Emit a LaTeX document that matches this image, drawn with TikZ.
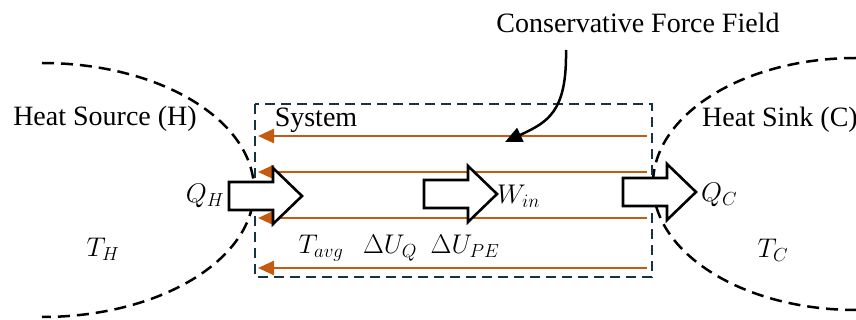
\RequirePackage{fix-cm}
\documentclass[tikz,border=0pt]{standalone}
\usepackage{fontspec}
\setmainfont{Liberation Serif}
\usetikzlibrary{arrows.meta}
\definecolor{fieldorange}{RGB}{197,90,17}
\definecolor{boxnavy}{RGB}{23,50,64}
\tikzset{
  reservoir/.style={draw=black, line width=2.5pt, dash pattern=on 12pt off 7pt},
  sysbox/.style={draw=boxnavy, line width=2pt, dash pattern=on 10pt off 6pt},
  fieldline/.style={draw=fieldorange, line width=2.6pt, -{Triangle[length=16pt,width=14pt]}},
  forcearrow/.style={draw=black, line width=2.5pt, -{Triangle[length=17pt,width=15pt]}},
  txt/.style={inner sep=0pt, font=\fontsize{28}{32}\selectfont},
  mth/.style={inner sep=0pt, font=\fontsize{27}{31}\selectfont},
  blockarrow/.pic={\draw[line width=2.6pt, fill=white, line join=miter]
      (0,-14) -- (44,-14) -- (44,-28) -- (73,0) -- (44,28) -- (44,14) -- (0,14) -- cycle;}
}
\begin{document}
\begin{tikzpicture}[x=1pt,y=-1pt]
\useasboundingbox (0,0) rectangle (856,320);
% reservoirs
\draw[reservoir] (42,63) arc[start angle=90, end angle=-90, x radius=212pt, y radius=127pt];
\draw[reservoir] (856,58) arc[start angle=90, end angle=270, x radius=203pt, y radius=126pt];
% system box
\draw[sysbox] (255,104) rectangle (652,277);
% field lines
\foreach \yy/\nm in {136/a,172/b,218/c,268/d}{
  \coordinate (r\nm) at (647,\yy);
  \coordinate (l\nm) at (258,\yy);
  \draw[fieldline] (r\nm) -- (l\nm);
}
% block arrows
\pic (qharrow) at (229,196) {blockarrow};
\pic (winarrow) at (424,194) {blockarrow};
\pic (qcarrow) at (623,192) {blockarrow};
% texts
\node[txt] (src) at (105,119) {Heat Source (H)};
\node[txt] (sys) at (316,120) {System};
\node[txt, anchor=west] (sink) at (702,120) {Heat Sink (C)};
\node[txt] (cff) at (638,23) {Conservative Force Field};
\node[mth] (qh) at (205,196) {$Q_H$};
\node[mth] (th) at (103,249) {$T_H$};
\node[mth] (tavg) at (321,248) {$T_{avg}$};
\node[mth] (duq) at (390,248) {$\Delta U_Q$};
\node[mth] (dupe) at (465,246) {$\Delta U_{PE}$};
\node[mth, anchor=west] (win) at (497,196) {$W_{in}$};
\node[mth, anchor=west] (qc) at (701,195) {$Q_C$};
\node[mth] (tc) at (773,250) {$T_C$};
% force field arrow
\coordinate (fstart) at (566,50);
\coordinate (ftip) at (505,142);
\draw[forcearrow] (fstart) .. controls (567,112) and (548,122) .. (ftip);
\end{tikzpicture}
\end{document}
